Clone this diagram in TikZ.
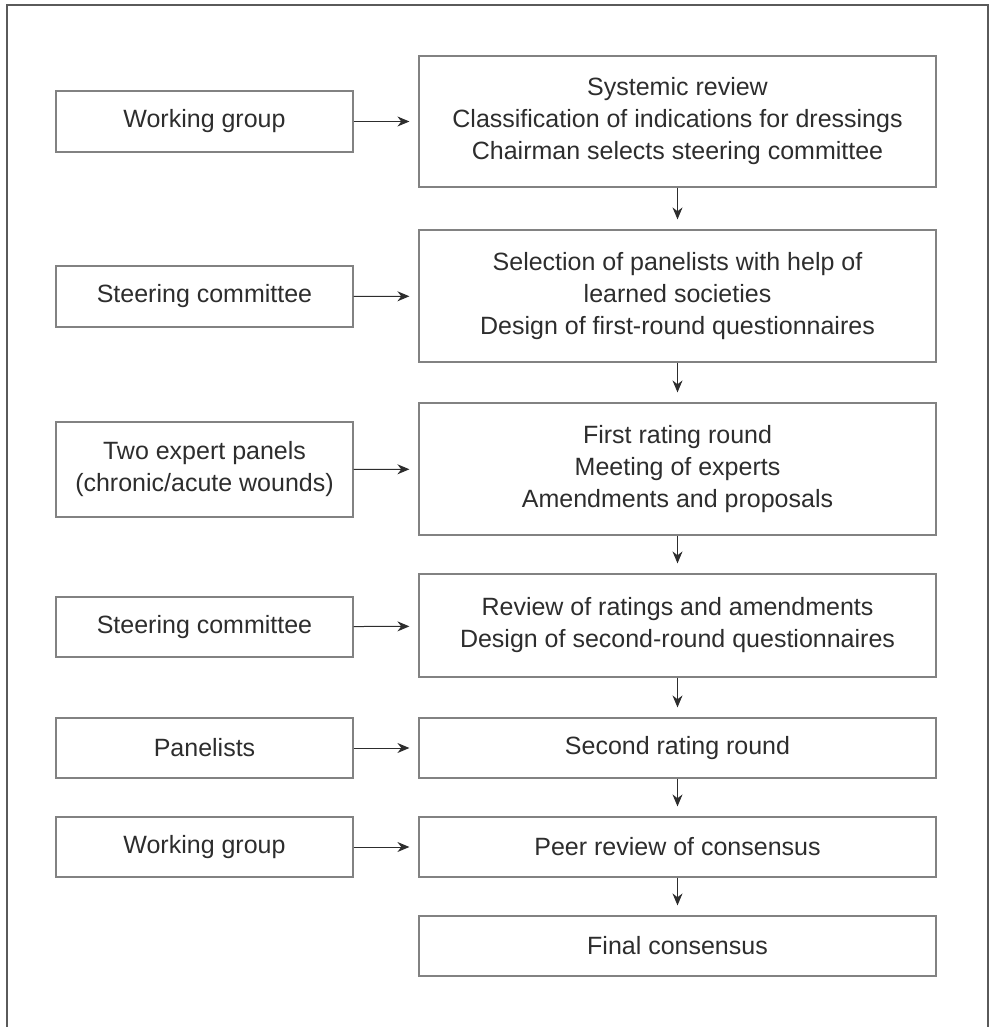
\documentclass[tikz,border=0pt]{standalone}
\usepackage{fontspec}
\setmainfont{Liberation Sans}
\usepackage{xcolor}
\usetikzlibrary{arrows.meta,positioning}
\definecolor{framegray}{RGB}{90,90,90}
\definecolor{boxgray}{RGB}{130,130,130}
\definecolor{textgray}{RGB}{45,45,45}

\begin{document}
\begin{tikzpicture}[x=0.5pt,y=-0.5pt,
    actor/.style={draw=boxgray,line width=0.6pt,inner sep=0pt,align=center,
        minimum width=148.5pt,text=textgray,font=\fontsize{12.5}{16}\selectfont},
    task/.style={draw=boxgray,line width=0.6pt,inner sep=0pt,align=center,
        minimum width=258.5pt,text=textgray,font=\fontsize{12.5}{16}\selectfont},
    flow/.style={draw=textgray,line width=0.5pt,-{Stealth[length=6pt,width=5pt]}}]
    \useasboundingbox (0,0) rectangle (992,1027);

    % outer frame
    \draw[framegray,line width=1pt] (7,1027) -- (7,5) -- (988,5) -- (988,1027);

    % who
    \node[actor,minimum height=30.5pt] (wg1) at (204.5,121.5) {Working group};
    \node[actor,minimum height=30.5pt] (sc1) at (204.5,296.5) {Steering committee};
    \node[actor,minimum height=47.5pt] (ep)  at (204.5,469.5) {Two expert panels\\(chronic/acute wounds)};
    \node[actor,minimum height=30pt]   (sc2) at (204.5,627) {Steering committee};
    \node[actor,minimum height=30pt]   (pan) at (204.5,748) {Panelists};
    \node[actor,minimum height=30pt]   (wg2) at (204.5,847) {Working group};

    % what
    \node[task,minimum height=65.5pt] (rev)  at (677.5,121.5) {Systemic review\\Classification of indications for dressings\\Chairman selects steering committee};
    \node[task,minimum height=66pt]   (sel)  at (677.5,296) {Selection of panelists with help of\\learned societies\\Design of first-round questionnaires};
    \node[task,minimum height=66pt]   (rd1)  at (677.5,469) {First rating round\\Meeting of experts\\Amendments and proposals};
    \node[task,minimum height=51.5pt] (rvw)  at (677.5,625.5) {Review of ratings and amendments\\Design of second-round questionnaires};
    \node[task,minimum height=30pt]   (rd2)  at (677.5,748) {Second rating round};
    \node[task,minimum height=30pt]   (peer) at (677.5,847) {Peer review of consensus};
    \node[task,minimum height=30pt]   (fin)  at (677.5,946) {Final consensus};

    % side arrows
    \foreach \a/\b in {wg1/rev,sc1/sel,ep/rd1,sc2/rvw,pan/rd2,wg2/peer}
        \draw[flow,shorten >=4.5pt] (\a) -- (\b);

    % down arrows
    \foreach \a/\b in {rev/sel,sel/rd1,rd1/rvw,rvw/rd2,rd2/peer,peer/fin}
        \draw[flow,shorten >=5pt] (\a) -- (\b);
\end{tikzpicture}
\end{document}
